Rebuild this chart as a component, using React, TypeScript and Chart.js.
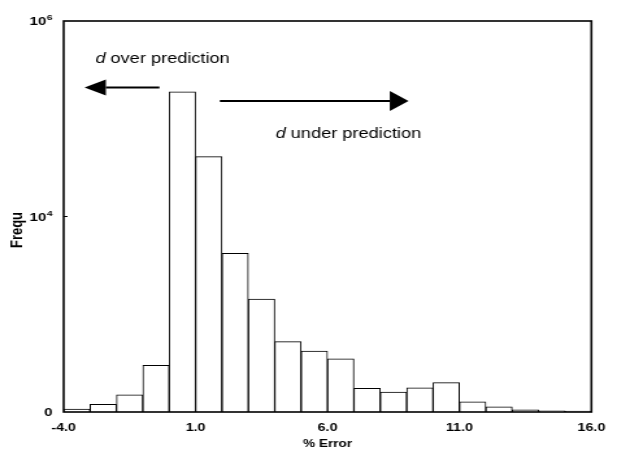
import React, { useEffect, useRef } from "react";
import { Chart, registerables } from "chart.js";

Chart.register(...registerables);

// ---- data ----
const binStart = [-4, -3, -2, -1, 0, 1, 2, 3, 4, 5, 6, 7, 8, 9, 10, 11, 12, 13, 14, 15];
const frequency = [107, 120, 150, 300, 189000, 41000, 4200, 1430, 525, 420, 350, 175, 160, 177, 200, 127, 113, 105, 103, 102];
const xTickValues = [-4, 1, 6, 11, 16];
const yTickValues = [100, 10000, 1000000];
const yTickBase = ["0", "10", "10"];
const yTickExponent = ["", "4", "6"];
const xTitle = "% Error";
const yTitle = "Frequ";
const overText = " over prediction";
const underText = " under prediction";

// annotation anchors in data units (x) and offsets below plot top (y)
const overArrow = { tail: -0.37, base: -2.4, tip: -3.21, dy: 66.5, half: 8 };
const underArrow = { tail: 1.92, base: 8.36, tip: 9.07, dy: 80, half: 10 };
const overLabel = { x: -2.8, dy: 41.5 };
const underLabel = { x: 4.03, dy: 116.5 };

const FAMILY = "'Liberation Sans', Arial, Helvetica, sans-serif";
const BW = 475; // bitmap width, stretched to 617 via CSS (reference is stretched horizontally)
const BH = 452;

function drawArrow(ctx: CanvasRenderingContext2D, tail: number, base: number, tip: number, y: number, half: number) {
  ctx.beginPath();
  ctx.lineWidth = 2;
  ctx.moveTo(tail, y);
  ctx.lineTo(base, y);
  ctx.stroke();
  ctx.beginPath();
  ctx.moveTo(base, y - half);
  ctx.lineTo(tip, y);
  ctx.lineTo(base, y + half);
  ctx.closePath();
  ctx.fill();
}

function drawLabel(ctx: CanvasRenderingContext2D, x: number, y: number, rest: string) {
  ctx.textBaseline = "alphabetic";
  ctx.textAlign = "left";
  ctx.font = `italic 14px ${FAMILY}`;
  ctx.fillText("d", x, y);
  const w = ctx.measureText("d").width;
  ctx.font = `14px ${FAMILY}`;
  ctx.fillText(rest, x + w, y);
}

const annotationPlugin = {
  id: "annotations",
  afterDraw(chart: any) {
    const { ctx, chartArea: a, scales } = chart;
    const xs = scales.x;
    const ys = scales.y;
    ctx.save();
    ctx.strokeStyle = "#000";
    ctx.fillStyle = "#000";
    ctx.lineWidth = 1.6;
    ctx.strokeRect(a.left, a.top, a.right - a.left, a.bottom - a.top);

    // small inward tick at middle y label
    ctx.lineWidth = 1;
    ctx.beginPath();
    const ym = ys.getPixelForValue(yTickValues[1]);
    ctx.moveTo(a.left, ym);
    ctx.lineTo(a.left + 3, ym);
    ctx.stroke();

    drawArrow(ctx, xs.getPixelForValue(overArrow.tail), xs.getPixelForValue(overArrow.base), xs.getPixelForValue(overArrow.tip), a.top + overArrow.dy, overArrow.half);
    drawArrow(ctx, xs.getPixelForValue(underArrow.tail), xs.getPixelForValue(underArrow.base), xs.getPixelForValue(underArrow.tip), a.top + underArrow.dy, underArrow.half);

    drawLabel(ctx, xs.getPixelForValue(overLabel.x), a.top + overLabel.dy, overText);
    drawLabel(ctx, xs.getPixelForValue(underLabel.x), a.top + underLabel.dy, underText);

    // y tick labels with superscript exponents
    const right = a.left - 8.5;
    ctx.textBaseline = "alphabetic";
    ctx.textAlign = "left";
    yTickValues.forEach((v, i) => {
      const py = ys.getPixelForValue(v);
      const baseY = py + 4.1;
      ctx.font = `bold 11.5px ${FAMILY}`;
      const wb = ctx.measureText(yTickBase[i]).width;
      ctx.font = `bold 8px ${FAMILY}`;
      const we = yTickExponent[i] ? ctx.measureText(yTickExponent[i]).width + 0.5 : 0;
      const x0 = right - wb - we;
      ctx.font = `bold 11.5px ${FAMILY}`;
      ctx.fillText(yTickBase[i], x0, baseY);
      if (yTickExponent[i]) {
        ctx.font = `bold 8px ${FAMILY}`;
        ctx.fillText(yTickExponent[i], x0 + wb + 0.5, baseY - 5);
      }
    });

    // y axis title
    ctx.save();
    ctx.translate(13.5, 230);
    ctx.rotate(-Math.PI / 2);
    ctx.font = `bold 13px ${FAMILY}`;
    ctx.textAlign = "center";
    ctx.textBaseline = "middle";
    ctx.fillText(yTitle, 0, 0);
    ctx.restore();

    ctx.restore();
  },
};

export default function App() {
  const ref = useRef<HTMLCanvasElement>(null);

  useEffect(() => {
    document.body.style.margin = "0";
    const canvas = ref.current;
    if (!canvas) return;
    const chart = new Chart(canvas, {
      type: "bar",
      data: {
        datasets: [
          {
            data: binStart.map((b, i) => ({ x: b + 0.5, y: frequency[i] })),
            backgroundColor: "#ffffff",
            borderColor: "#000000",
            borderWidth: 1,
            barPercentage: 1,
            categoryPercentage: 1,
          },
        ],
      },
      options: {
        responsive: false,
        animation: false,
        events: [],
        layout: { padding: { top: 21, right: 16, left: 0, bottom: 0 } },
        plugins: { legend: { display: false }, tooltip: { enabled: false } },
        scales: {
          x: {
            type: "linear",
            min: -4,
            max: 16,
            offset: false,
            grid: { display: false, drawTicks: false, offset: false },
            border: { display: false },
            afterBuildTicks: (s: any) => {
              s.ticks = xTickValues.map((v) => ({ value: v }));
            },
            afterFit: (s: any) => {
              s.height = 40;
            },
            ticks: {
              padding: 9,
              maxRotation: 0,
              autoSkip: false,
              color: "#000",
              font: { family: FAMILY, size: 11, weight: "bold" },
              callback: (v: any) => Number(v).toFixed(1),
            },
            title: {
              display: true,
              text: xTitle,
              color: "#000",
              font: { family: FAMILY, size: 10.5, weight: "bold" },
              padding: { top: 2, bottom: 2 },
            },
          },
          y: {
            type: "logarithmic",
            min: 100,
            max: 1000000,
            grid: { display: false, drawTicks: false },
            border: { display: false },
            afterBuildTicks: (s: any) => {
              s.ticks = yTickValues.map((v) => ({ value: v }));
            },
            afterFit: (s: any) => {
              s.width = 49;
            },
            ticks: { display: false },
          },
        },
      },
      plugins: [annotationPlugin],
    } as any);
    return () => chart.destroy();
  }, []);

  return (
    <canvas
      ref={ref}
      width={BW}
      height={BH}
      style={{ width: "617px", height: "452px", display: "block" }}
    />
  );
}
